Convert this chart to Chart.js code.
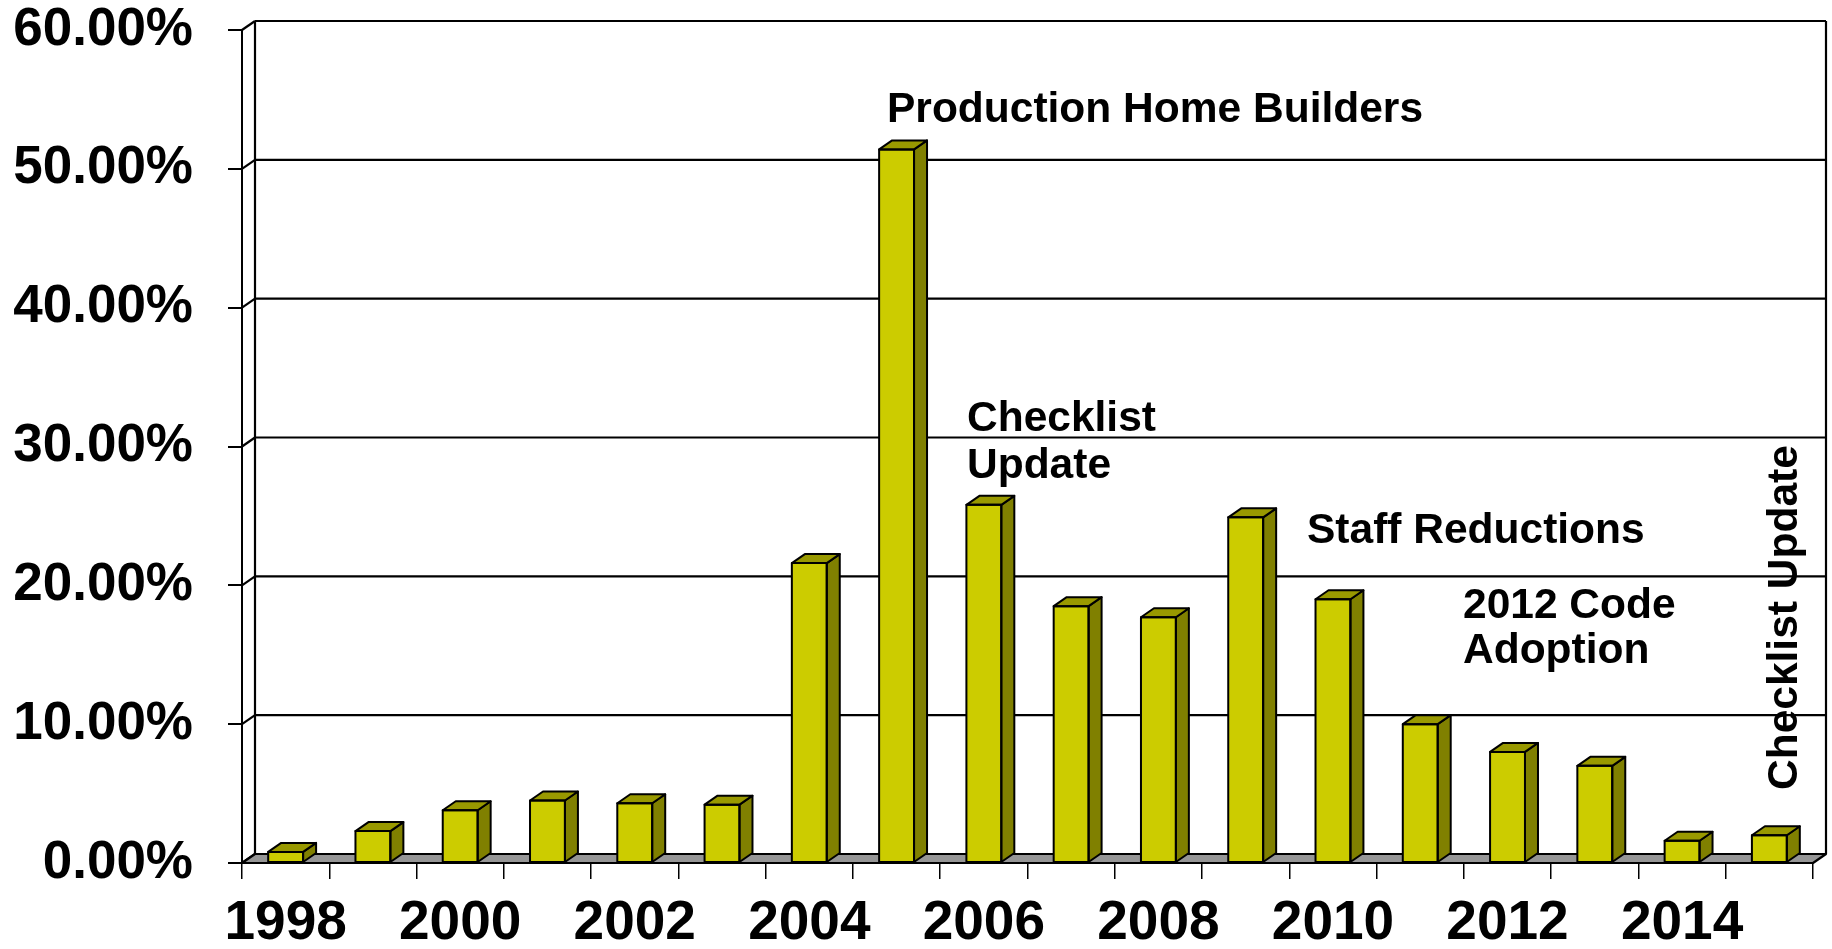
<!DOCTYPE html>
<html><head><meta charset="utf-8">
<script src="https://cdn.jsdelivr.net/npm/chart.js@4/dist/chart.umd.min.js"></script>
<style>html,body{margin:0;padding:0;background:#fff;overflow:hidden}#wrap{width:1832px;height:949px}</style>
</head><body><div id="wrap"><canvas id="c" width="1832" height="949"></canvas></div>
<script>
// ---- data ----
const years = ['1998','1999','2000','2001','2002','2003','2004','2005','2006','2007','2008','2009','2010','2011','2012','2013','2014','2015'];
const shares = [0.8, 2.3, 3.8, 4.5, 4.3, 4.2, 21.6, 51.4, 25.8, 18.5, 17.7, 24.9, 19.0, 10.0, 8.0, 7.0, 1.6, 2.0];
const yTicks = [0, 10, 20, 30, 40, 50, 60];
const shownYears = ['1998','2000','2002','2004','2006','2008','2010','2012','2014'];
const noteTexts = ['Production Home Builders', 'Checklist', 'Update', 'Staff Reductions', '2012 Code', 'Adoption'];
const rotatedNote = 'Checklist Update';

// ---- style ----
const FONT = "'Liberation Sans', Arial, sans-serif";
const DX = 13, DY = 9;
const FACE = '#CCCC00', TOP = '#999900', SIDE = '#808000', FLOOR = '#969696';
const notePos = [[887,122],[967,431],[967,478],[1307,543],[1463,618],[1463,663]];

function line(ctx, x1, y1, x2, y2) { ctx.beginPath(); ctx.moveTo(x1, y1); ctx.lineTo(x2, y2); ctx.stroke(); }

const threeD = {
  id: 'threeD',
  beforeDatasetsDraw(chart) {
    const {ctx, chartArea: a, scales: {y}} = chart;
    ctx.save();
    ctx.strokeStyle = '#000'; ctx.lineWidth = 2.2; ctx.lineJoin = 'round';
    const y0 = y.getPixelForValue(0), yTop = y.getPixelForValue(60);
    yTicks.forEach(v => {
      const py = y.getPixelForValue(v);
      if (v > 0) line(ctx, a.left + DX, py - DY, a.right + DX, py - DY);
      line(ctx, a.left, py, a.left + DX, py - DY);
    });
    line(ctx, a.left + DX, yTop - DY, a.left + DX, y0 - DY);
    line(ctx, a.right + DX, yTop - DY, a.right + DX, y0 - DY);
    ctx.beginPath();
    ctx.moveTo(a.left, y0); ctx.lineTo(a.right, y0); ctx.lineTo(a.right + DX, y0 - DY); ctx.lineTo(a.left + DX, y0 - DY); ctx.closePath();
    ctx.fillStyle = FLOOR; ctx.fill(); ctx.stroke();
    ctx.restore();
  },
  afterDatasetsDraw(chart) {
    const {ctx} = chart;
    const meta = chart.getDatasetMeta(0);
    ctx.save();
    ctx.strokeStyle = '#000'; ctx.lineWidth = 2; ctx.lineJoin = 'round';
    meta.data.forEach(bar => {
      const p = bar.getProps(['x', 'y', 'base', 'width'], true);
      const l = p.x - p.width / 2, r = p.x + p.width / 2, t = p.y, b = p.base;
      ctx.beginPath();
      ctx.moveTo(r, t); ctx.lineTo(r + DX, t - DY); ctx.lineTo(r + DX, b - DY); ctx.lineTo(r, b); ctx.closePath();
      ctx.fillStyle = SIDE; ctx.fill(); ctx.stroke();
      ctx.beginPath();
      ctx.moveTo(l, t); ctx.lineTo(l + DX, t - DY); ctx.lineTo(r + DX, t - DY); ctx.lineTo(r, t); ctx.closePath();
      ctx.fillStyle = TOP; ctx.fill(); ctx.stroke();
      ctx.strokeRect(l, t, r - l, b - t);
    });
    ctx.restore();
  },
  afterDraw(chart) {
    const {ctx} = chart;
    ctx.save();
    ctx.fillStyle = '#000';
    ctx.font = 'bold 42.5px ' + FONT;
    ctx.textAlign = 'left'; ctx.textBaseline = 'alphabetic';
    noteTexts.forEach((t, i) => ctx.fillText(t, notePos[i][0], notePos[i][1]));
    ctx.translate(1797, 790);
    ctx.rotate(-Math.PI / 2);
    ctx.fillText(rotatedNote, 0, 0);
    ctx.restore();
  }
};

function zeroPad(s) { s.paddingTop = 0; s.paddingBottom = 0; s.paddingLeft = 0; s.paddingRight = 0; }

new Chart(document.getElementById('c'), {
  type: 'bar',
  data: {
    labels: years,
    datasets: [{
      data: shares,
      backgroundColor: FACE,
      borderColor: '#000',
      borderWidth: 0,
      categoryPercentage: 1,
      barPercentage: 0.4
    }]
  },
  options: {
    responsive: false,
    animation: false,
    devicePixelRatio: 1,
    layout: { padding: { top: 30, right: 19, left: 0, bottom: 0 } },
    plugins: { legend: { display: false }, tooltip: { enabled: false } },
    scales: {
      x: {
        offset: true,
        ticks: {
          autoSkip: false, maxRotation: 0, minRotation: 0, padding: 17, color: '#000',
          font: { family: FONT, size: 55, weight: 'bold', lineHeight: 1 },
          callback: (v, i) => shownYears.includes(years[i]) ? years[i] : ''
        },
        grid: { offset: true, drawOnChartArea: false, drawTicks: true, tickLength: 16, color: '#000', lineWidth: 1.5 },
        border: { display: true, color: '#000', width: 2 },
        afterFit: s => { s.height = 86; zeroPad(s); }
      },
      y: {
        min: 0, max: 60,
        afterBuildTicks: s => { s.ticks = yTicks.map(v => ({ value: v })); },
        ticks: {
          padding: 35, color: '#000',
          font: { family: FONT, size: 53, weight: 'bold', lineHeight: 1 },
          callback: v => Number(v).toFixed(2) + '%'
        },
        grid: { drawOnChartArea: false, drawTicks: true, tickLength: 14, color: '#000', lineWidth: 2 },
        border: { display: true, color: '#000', width: 2 },
        afterFit: s => { s.width = 242; zeroPad(s); }
      }
    }
  },
  plugins: [threeD]
});
</script>
</body></html>
